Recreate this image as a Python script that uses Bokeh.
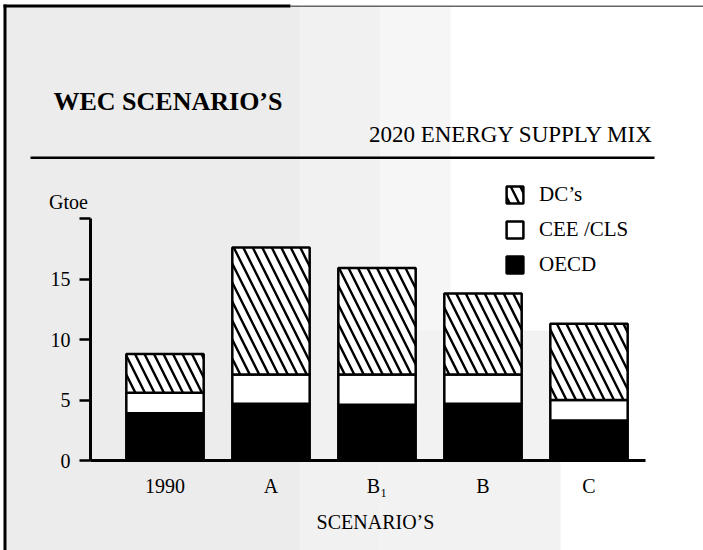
from bokeh.plotting import figure
from bokeh.models import (Range1d, FixedTicker, Label, Legend, LegendItem,
                          BoxAnnotation, ColumnDataSource)
from bokeh.embed import file_html
from bokeh.resources import INLINE

# ---- data (Gtoe) ----
scenarios = ["1990", "A", "B\u2081", "B", "C"]
oecd = [3.9, 4.7, 4.6, 4.7, 3.3]
cee_cls = [1.7, 2.4, 2.5, 2.4, 1.7]
dcs = [3.2, 10.5, 8.8, 6.7, 6.3]
y_ticks = [0, 5, 10, 15, 20]

FONT = "Liberation Serif"
W, H = 703, 550
PX_X = 106.0                   # pixels per category step
X0 = 164.5                     # first category centre (canvas px)
Y0 = 460.0                     # zero line (canvas px)
PX_Y = 12.1                    # pixels per Gtoe

def dx(cx):
    return (cx - X0) / PX_X

def dy(cy):
    return (Y0 - cy) / PX_Y

xs = list(range(len(scenarios)))
src = ColumnDataSource(dict(x=xs, oecd=oecd, cee=cee_cls, dc=dcs))

p = figure(width=W, height=H, output_backend="svg", toolbar_location=None,
           x_range=Range1d(dx(0), dx(W)), y_range=Range1d(dy(H), dy(0)),
           min_border=0)
p.outline_line_color = None
p.grid.visible = False
p.background_fill_color = "white"
p.border_fill_color = "white"

# light stipple-like shading (fading to white towards the upper right)
def shade(l, r, t, b, c):
    p.add_layout(BoxAnnotation(left=dx(l), right=dx(r), top=dy(t), bottom=dy(b),
                               fill_color=c, fill_alpha=1.0, line_color=None,
                               level="underlay"))

shade(5, 300, 5, H, "#ececec")
shade(300, 380, 5, H, "#f1f1f1")
shade(380, 450, 5, H, "#f6f6f6")
shade(380, 560, 330, H, "#f2f2f2")

# scan frame edges
def edge(l, r, t, b, c):
    p.add_layout(BoxAnnotation(left=dx(l), right=dx(r), top=dy(t), bottom=dy(b),
                               fill_color=c, fill_alpha=1.0, line_color=None))

edge(3, 6, 4, H, "black")
edge(3, 290, 4, 7, "black")
edge(290, W, 5, 6.5, "#666666")

rs = p.vbar_stack(["oecd", "cee", "dc"], x="x", width=0.73, source=src,
                  fill_color=["black", "white", "white"],
                  line_color="black", line_width=2.5,
                  hatch_pattern=[" ", " ", "left_diagonal_line"],
                  hatch_color="black", hatch_weight=2.4, hatch_scale=19)

# axes (drawn inside the full-canvas frame)
ya = p.yaxis[0]
ya.fixed_location = dx(90)
ya.ticker = FixedTicker(ticks=y_ticks)
ya.major_label_overrides = {20: ""}
ya.bounds = (0, 20)
ya.axis_line_width = 3
ya.major_tick_line_width = 2.5
ya.major_tick_out = 11
ya.major_tick_in = 0
ya.minor_tick_out = 0
ya.minor_tick_in = 0
ya.major_label_text_font = FONT
ya.major_label_text_font_size = "20px"
ya.major_label_text_color = "black"
ya.major_label_standoff = 9

xa = p.xaxis[0]
xa.fixed_location = 0
xa.ticker = FixedTicker(ticks=xs)
xa.major_label_overrides = {i: s for i, s in zip(xs, scenarios)}
xa.bounds = (dx(90), dx(645))
xa.axis_line_width = 3
xa.major_tick_out = 0
xa.major_tick_in = 0
xa.minor_tick_out = 0
xa.minor_tick_in = 0
xa.major_label_text_font = FONT
xa.major_label_text_font_size = "20px"
xa.major_label_text_color = "black"
xa.major_label_standoff = 14

# texts
def lab(text, cx, cy, size, bold=False, align="left", baseline="middle"):
    p.add_layout(Label(x=dx(cx), y=dy(cy), text=text, text_font=FONT,
                       text_font_size=size, text_color="black",
                       text_font_style="bold" if bold else "normal",
                       text_align=align, text_baseline=baseline))

lab("WEC SCENARIO\u2019S", 53, 101, "26px", bold=True)
lab("2020 ENERGY SUPPLY MIX", 653, 134, "23px", align="right")
lab("Gtoe", 68, 201, "20px", align="center")
lab("SCENARIO\u2019S", 375, 521, "20px", align="center")

# horizontal rule under the heading
p.add_layout(BoxAnnotation(left=dx(30), right=dx(654), top=dy(156), bottom=dy(158.5),
                           fill_color="black", fill_alpha=1.0, line_color=None))

legend = Legend(items=[LegendItem(label="DC\u2019s", renderers=[rs[2]]),
                       LegendItem(label="CEE /CLS", renderers=[rs[1]]),
                       LegendItem(label="OECD", renderers=[rs[0]])],
                location=(504, H - 277), orientation="vertical",
                glyph_width=21, glyph_height=21, spacing=10, padding=0, margin=0,
                label_standoff=14, label_text_font=FONT,
                label_text_font_size="21px", label_text_color="black",
                background_fill_alpha=0, border_line_color=None)
p.add_layout(legend, "center")

open("out.html", "w").write(file_html(p, INLINE))
